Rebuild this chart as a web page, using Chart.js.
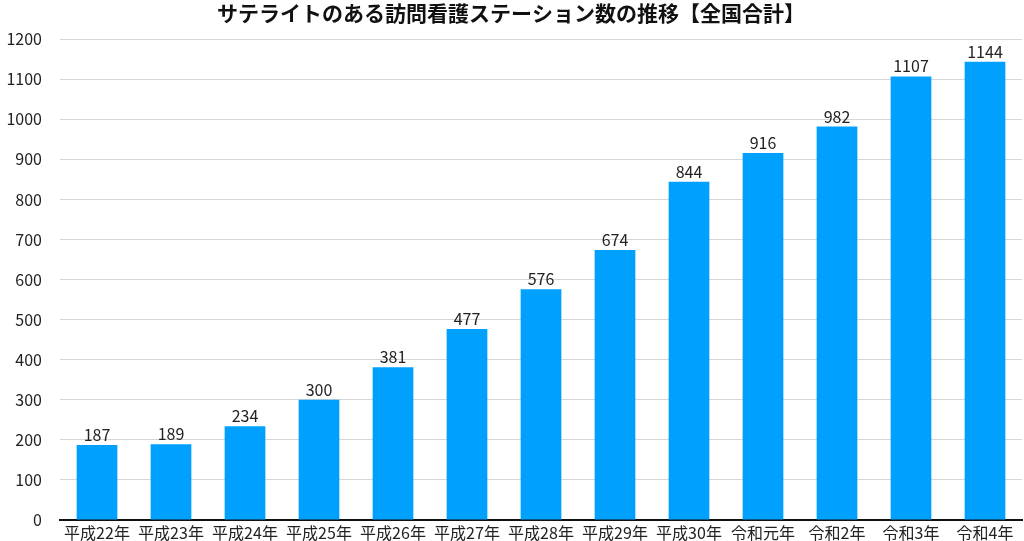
<!DOCTYPE html>
<html>
<head>
<meta charset="utf-8">
<script src="https://cdn.jsdelivr.net/npm/chart.js@4"></script>
<style>
  html, body { margin: 0; padding: 0; background: #fff; }
  #wrap { width: 1024px; height: 541px; }
</style>
</head>
<body>
<div id="wrap"><canvas id="bar-chart"></canvas></div>
<script>
const years = ['平成22年', '平成23年', '平成24年', '平成25年', '平成26年', '平成27年', '平成28年', '平成29年', '平成30年', '令和元年', '令和2年', '令和3年', '令和4年'];
const stations = [187, 189, 234, 300, 381, 477, 576, 674, 844, 916, 982, 1107, 1144];
const titleText = 'サテライトのある訪問看護ステーション数の推移【全国合計】';

const fontFamily = '"Noto Sans CJK JP", "Noto Sans", sans-serif';

// draws the value above each bar
const valueLabels = {
  id: 'valueLabels',
  afterDatasetsDraw(chart) {
    const ctx = chart.ctx;
    const meta = chart.getDatasetMeta(0);
    ctx.save();
    ctx.font = '16px ' + fontFamily;
    ctx.fillStyle = '#222';
    ctx.textAlign = 'center';
    ctx.textBaseline = 'alphabetic';
    meta.data.forEach((bar, i) => {
      ctx.fillText(stations[i], bar.x, bar.y - 4);
    });
    ctx.restore();
  }
};

const barChart = document.getElementById('bar-chart').getContext('2d');

new Chart(barChart, {
  type: 'bar',
  data: {
    labels: years,
    datasets: [{
      data: stations,
      backgroundColor: '#00a0ff',
      categoryPercentage: 1,
      barPercentage: 0.55
    }]
  },
  options: {
    responsive: true,
    maintainAspectRatio: false,
    animation: false,
    layout: { padding: { left: 0, right: 2, top: 0, bottom: 0 } },
    plugins: {
      legend: { display: false },
      tooltip: { enabled: false },
      title: {
        display: true,
        text: titleText,
        color: '#111',
        font: { family: fontFamily, size: 21, weight: 'bold' },
        padding: { top: 0, bottom: 14 }
      }
    },
    scales: {
      x: {
        grid: { display: false, drawTicks: false },
        border: { color: '#111', width: 2 },
        ticks: {
          color: '#222',
          font: { family: fontFamily, size: 16 },
          maxRotation: 0,
          autoSkip: false,
          padding: 3
        },
        afterFit: scale => {
          scale.height = 21;
          scale.paddingBottom = 0;
          scale.paddingTop = 0;
        }
      },
      y: {
        min: 0,
        max: 1200,
        grid: { color: '#d6d6d6', lineWidth: 1, drawTicks: false },
        border: { display: false },
        ticks: {
          stepSize: 100,
          color: '#222',
          font: { family: fontFamily, size: 16 },
          padding: 18,
          callback: v => String(v)
        },
        afterFit: scale => {
          scale.width = 60;
          scale.paddingBottom = 0;
        }
      }
    }
  },
  plugins: [valueLabels]
});
</script>
</body>
</html>
